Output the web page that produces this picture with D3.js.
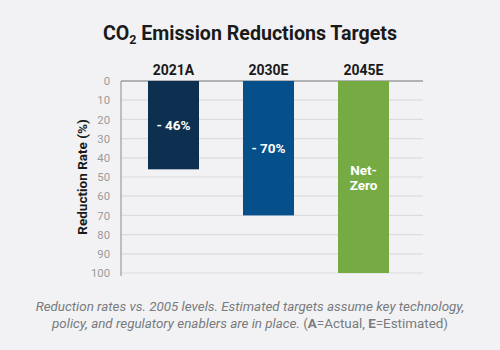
<!DOCTYPE html>
<html>
<head>
<meta charset="utf-8">
<script src="https://cdn.jsdelivr.net/npm/d3@7"></script>
<style>
  html, body { margin: 0; padding: 0; background: #f2f2f4; }
  svg { display: block; font-family: Roboto, "Noto Sans", sans-serif; }
</style>
</head>
<body>
<div id="wrapper"></div>
<script>
// Data
const categories = ['2021A', '2030E', '2045E'];
const values = [46, 70, 100];
const barLabels = [['- 46%'], ['- 70%'], ['Net-', 'Zero']];
const barColors = ['#0d3050', '#05508a', '#75ab42'];
const yTicks = [0, 10, 20, 30, 40, 50, 60, 70, 80, 90, 100];

// Dimension
const dimension = {width: 500, height: 350,
    margin: {top: 81, bottom: 77, left: 121, right: 77}};
dimension.boundWidth = dimension.width - dimension.margin.left - dimension.margin.right;
dimension.boundHeight = dimension.height - dimension.margin.top - dimension.margin.bottom;

// Canvas
const wrapper = d3.select('#wrapper').append('svg')
    .attr('width', dimension.width).attr('height', dimension.height);
wrapper.append('rect').attr('width', dimension.width).attr('height', dimension.height)
    .attr('fill', '#f2f2f4');
const bounds = wrapper.append('g')
    .attr('transform', `translate(${dimension.margin.left},${dimension.margin.top})`);

// Scales
const xScale = d3.scaleBand().domain(categories)
    .range([5, 290]).paddingInner(0.463).paddingOuter(0.2315);
const yScale = d3.scaleLinear().domain([0, 100]).range([0, 192]);

// Title
const title = wrapper.append('text').attr('x', 250).attr('y', 40)
    .attr('text-anchor', 'middle').attr('font-size', 19.6).attr('font-weight', 700)
    .attr('fill', '#1a1a1a');
title.append('tspan').text('CO');
title.append('tspan').text('2').attr('font-size', 12.5).attr('dy', 4);
title.append('tspan').text(' Emission Reductions Targets').attr('dy', -4);

// Grid
bounds.append('g').selectAll('line').data(yTicks.slice(1)).join('line')
    .attr('x1', 0).attr('x2', dimension.boundWidth)
    .attr('y1', d => yScale(d)).attr('y2', d => yScale(d))
    .attr('stroke', '#dcdcdf').attr('stroke-width', 1.2);

// Y axis
const yAxis = bounds.append('g')
    .call(d3.axisLeft(yScale).tickValues(yTicks).tickSize(0).tickPadding(11));
yAxis.select('.domain').remove();
yAxis.selectAll('text').attr('font-size', 11.3).attr('fill', '#9a9a9a')
    .attr('font-family', 'Roboto, sans-serif');
bounds.append('line').attr('x1', 0).attr('x2', 0).attr('y1', 0).attr('y2', yScale(100) + 3)
    .attr('stroke', '#9a9c9e').attr('stroke-width', 1.2);
bounds.append('line').attr('x1', 0).attr('x2', dimension.boundWidth).attr('y1', 0).attr('y2', 0)
    .attr('stroke', '#9a9c9e').attr('stroke-width', 1.5);

wrapper.append('text').text('Reduction Rate (%)')
    .attr('transform', 'translate(87,177) rotate(-90)')
    .attr('text-anchor', 'middle').attr('font-size', 13.5).attr('font-weight', 700)
    .attr('fill', '#1a1a1a');

// Bars
const barGroups = bounds.append('g').selectAll('g').data(categories).join('g');
barGroups.append('rect')
    .attr('x', d => xScale(d)).attr('y', 0)
    .attr('width', xScale.bandwidth())
    .attr('height', (d, i) => yScale(values[i]))
    .attr('fill', (d, i) => barColors[i]);

// Category labels
barGroups.append('text').text(d => d)
    .attr('x', d => xScale(d) + xScale.bandwidth() / 2).attr('y', -6)
    .attr('text-anchor', 'middle').attr('font-size', 14).attr('font-weight', 700)
    .attr('fill', '#1a1a1a');

// Value labels (one text per line)
barGroups.each(function(d, i) {
    const lines = barLabels[i];
    const cy = yScale(values[i]) / 2;
    lines.forEach((line, j) => {
        d3.select(this).append('text').text(line)
            .attr('text-anchor', 'middle').attr('font-size', 13.5).attr('font-weight', 700)
            .attr('fill', '#ffffff')
            .attr('x', xScale(d) + xScale.bandwidth() / 2)
            .attr('y', cy + 5 + (j - (lines.length - 1) / 2) * 15);
    });
});

// Caption
const caption = wrapper.append('g').attr('font-size', 13.4).attr('fill', '#777b7e');
caption.append('text').attr('x', 250).attr('y', 311).attr('text-anchor', 'middle')
    .attr('font-style', 'italic')
    .text('Reduction rates vs. 2005 levels. Estimated targets assume key technology,');
const cap2 = caption.append('text').attr('x', 250).attr('y', 328).attr('text-anchor', 'middle');
cap2.append('tspan').attr('font-style', 'italic')
    .text('policy, and regulatory enablers are in place. ');
cap2.append('tspan').text('(');
cap2.append('tspan').attr('font-weight', 700).text('A');
cap2.append('tspan').text('=Actual, ');
cap2.append('tspan').attr('font-weight', 700).text('E');
cap2.append('tspan').text('=Estimated)');
</script>
</body>
</html>
